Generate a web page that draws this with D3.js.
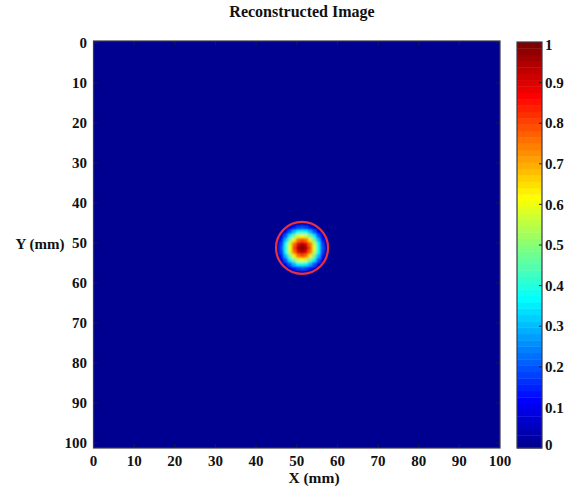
<!DOCTYPE html>
<html>
<head>
<meta charset="utf-8">
<script src="https://cdn.jsdelivr.net/npm/d3@7"></script>
<style>
  html, body { margin: 0; padding: 0; background: #fff; }
  svg { display: block; }
  text { font-family: "Liberation Serif", "Times New Roman", serif; font-weight: bold; fill: #111; }
</style>
</head>
<body>
<svg id="chart" width="576" height="489"></svg>
<script>
// Reconstructed image: a single hot spot near (51, 51) mm on an otherwise empty field.
const TITLE = "Reconstructed Image";
const X_LABEL = "X (mm)";
const Y_LABEL = "Y (mm)";

const xTicks = [0, 10, 20, 30, 40, 50, 60, 70, 80, 90, 100];
const yTicks = [0, 10, 20, 30, 40, 50, 60, 70, 80, 90, 100];
const cbTicks = [0, 0.1, 0.2, 0.3, 0.4, 0.5, 0.6, 0.7, 0.8, 0.9, 1];
const cbLabels = ["0", "0.1", "0.2", "0.3", "0.4", "0.5", "0.6", "0.7", "0.8", "0.9", "1"];

// intensity, 1 mm cells, window starting at (44.8, 44.75) mm
const gridX0 = 44.8;
const gridY0 = 44.75;
const gridValues = [
  [0.00, 0.00, 0.00, 0.01, 0.03, 0.05, 0.05, 0.05, 0.03, 0.01, 0.00, 0.00, 0.00],
  [0.00, 0.00, 0.03, 0.08, 0.13, 0.18, 0.20, 0.18, 0.13, 0.08, 0.03, 0.00, 0.00],
  [0.00, 0.03, 0.10, 0.20, 0.30, 0.38, 0.40, 0.38, 0.30, 0.20, 0.10, 0.03, 0.00],
  [0.01, 0.08, 0.20, 0.35, 0.48, 0.57, 0.60, 0.57, 0.48, 0.35, 0.20, 0.08, 0.01],
  [0.03, 0.13, 0.30, 0.48, 0.64, 0.76, 0.80, 0.76, 0.64, 0.48, 0.30, 0.13, 0.03],
  [0.05, 0.18, 0.38, 0.57, 0.76, 0.90, 0.95, 0.90, 0.76, 0.57, 0.38, 0.18, 0.05],
  [0.05, 0.20, 0.40, 0.60, 0.80, 0.95, 1.00, 0.95, 0.80, 0.60, 0.40, 0.20, 0.05],
  [0.05, 0.18, 0.38, 0.57, 0.76, 0.90, 0.95, 0.90, 0.76, 0.57, 0.38, 0.18, 0.05],
  [0.03, 0.13, 0.30, 0.48, 0.64, 0.76, 0.80, 0.76, 0.64, 0.48, 0.30, 0.13, 0.03],
  [0.01, 0.08, 0.20, 0.35, 0.48, 0.57, 0.60, 0.57, 0.48, 0.35, 0.20, 0.08, 0.01],
  [0.00, 0.03, 0.10, 0.20, 0.30, 0.38, 0.40, 0.38, 0.30, 0.20, 0.10, 0.03, 0.00],
  [0.00, 0.00, 0.03, 0.08, 0.13, 0.18, 0.20, 0.18, 0.13, 0.08, 0.03, 0.00, 0.00],
  [0.00, 0.00, 0.00, 0.01, 0.03, 0.05, 0.05, 0.05, 0.03, 0.01, 0.00, 0.00, 0.00],
];

// marked target (red ring), mm
const targets = [{ x: 51.3, y: 51.2, r: 6.4 }];

// --- layout
const plot = { left: 93.5, right: 500, top: 41, bottom: 448 };
const cbar = { left: 517, right: 542, top: 42, bottom: 448 };

const x = d3.scaleLinear().domain([0, 100]).range([plot.left, plot.right]);
const y = d3.scaleLinear().domain([0, 100]).range([43, 443]);
const cb = d3.scaleLinear().domain([0, 1]).range([cbar.bottom, cbar.top]);

// MATLAB jet
const jet = d3.scaleLinear()
  .domain([0, 7 / 63, 23 / 63, 39 / 63, 55 / 63, 1])
  .range(["#000090", "#0000ff", "#00ffff", "#ffff00", "#ff0000", "#800000"])
  .clamp(true);

const svg = d3.select("#chart");
const defs = svg.append("defs");
defs.append("clipPath").attr("id", "plotClip").append("rect")
  .attr("x", plot.left).attr("y", plot.top)
  .attr("width", plot.right - plot.left).attr("height", plot.bottom - plot.top);
defs.append("filter").attr("id", "soft")
  .attr("x", "-20%").attr("y", "-20%").attr("width", "140%").attr("height", "140%")
  .append("feGaussianBlur").attr("stdDeviation", 1.0);

// background field (value 0)
svg.append("rect")
  .attr("x", plot.left).attr("y", plot.top)
  .attr("width", plot.right - plot.left).attr("height", plot.bottom - plot.top)
  .attr("fill", jet(0));

// heat cells
const cells = [];
gridValues.forEach((row, i) => row.forEach((v, j) => cells.push({ i, j, v })));
const gHeat = svg.append("g").attr("clip-path", "url(#plotClip)")
  .append("g").attr("filter", "url(#soft)");
gHeat.selectAll("rect").data(cells).join("rect")
  .attr("x", (d) => x(gridX0 + d.j))
  .attr("y", (d) => y(gridY0 + d.i))
  .attr("width", (d) => x(gridX0 + d.j + 1) - x(gridX0 + d.j) + 0.3)
  .attr("height", (d) => y(gridY0 + d.i + 1) - y(gridY0 + d.i) + 0.3)
  .attr("fill", (d) => jet(d.v));

// red ring
svg.append("g").selectAll("circle").data(targets).join("circle")
  .attr("cx", (d) => x(d.x))
  .attr("cy", (d) => y(d.y))
  .attr("r", (d) => x(d.r) - x(0))
  .attr("fill", "none")
  .attr("stroke", "#e8323c")
  .attr("stroke-width", 2.2);

// inward ticks
const tickLen = 4;
const gTicks = svg.append("g").attr("stroke", "#1a1a40").attr("stroke-width", 1);
const xIn = xTicks.filter((t) => x(t) > plot.left + 1 && x(t) < plot.right - 1);
gTicks.selectAll("line.xb").data(xIn).join("line").attr("class", "xb")
  .attr("x1", (d) => x(d)).attr("x2", (d) => x(d))
  .attr("y1", plot.bottom).attr("y2", plot.bottom - tickLen);
gTicks.selectAll("line.xt").data(xIn).join("line").attr("class", "xt")
  .attr("x1", (d) => x(d)).attr("x2", (d) => x(d))
  .attr("y1", plot.top).attr("y2", plot.top + tickLen);
const yIn = yTicks.filter((t) => y(t) > plot.top + 1 && y(t) < plot.bottom - 1);
gTicks.selectAll("line.yl").data(yIn).join("line").attr("class", "yl")
  .attr("x1", plot.left).attr("x2", plot.left + tickLen)
  .attr("y1", (d) => y(d)).attr("y2", (d) => y(d));
gTicks.selectAll("line.yr").data(yIn).join("line").attr("class", "yr")
  .attr("x1", plot.right).attr("x2", plot.right - tickLen)
  .attr("y1", (d) => y(d)).attr("y2", (d) => y(d));

// frame
svg.append("rect")
  .attr("x", plot.left).attr("y", plot.top)
  .attr("width", plot.right - plot.left).attr("height", plot.bottom - plot.top)
  .attr("fill", "none").attr("stroke", "#3a3a4a").attr("stroke-width", 1.2);

// tick labels
svg.append("g").selectAll("text").data(xTicks).join("text")
  .attr("x", (d) => x(d)).attr("y", 466)
  .attr("text-anchor", "middle").attr("font-size", 15)
  .text((d) => d);
svg.append("g").selectAll("text").data(yTicks).join("text")
  .attr("x", 87).attr("y", (d) => y(d))
  .attr("dy", "0.35em")
  .attr("text-anchor", "end").attr("font-size", 15)
  .text((d) => d);

// axis titles
svg.append("text").attr("x", 302).attr("y", 17)
  .attr("text-anchor", "middle").attr("font-size", 16).text(TITLE);
svg.append("text").attr("x", 314).attr("y", 483)
  .attr("text-anchor", "middle").attr("font-size", 15.5).text(X_LABEL);
svg.append("text").attr("x", 40).attr("y", 244).attr("dy", "0.35em")
  .attr("text-anchor", "middle").attr("font-size", 15).text(Y_LABEL);

// colorbar, 64 steps like the jet map
const steps = d3.range(64);
const stepH = (cbar.bottom - cbar.top) / 64;
svg.append("g").selectAll("rect").data(steps).join("rect")
  .attr("x", cbar.left)
  .attr("y", (d) => cb((d + 1) / 64))
  .attr("width", cbar.right - cbar.left)
  .attr("height", stepH + 0.4)
  .attr("fill", (d) => jet(d / 63));
svg.append("g").attr("stroke", "#1a1a1a").selectAll("line")
  .data(cbTicks.filter((t) => t > 0 && t < 1)).join("line")
  .attr("x1", cbar.right).attr("x2", cbar.right - 3)
  .attr("y1", (d) => cb(d)).attr("y2", (d) => cb(d));
svg.append("rect")
  .attr("x", cbar.left).attr("y", cbar.top)
  .attr("width", cbar.right - cbar.left).attr("height", cbar.bottom - cbar.top)
  .attr("fill", "none").attr("stroke", "#3a3a4a").attr("stroke-width", 1.2);
svg.append("g").selectAll("text").data(cbTicks).join("text")
  .attr("x", 545)
  .attr("y", (d) => Math.min(cb(0) - 3, Math.max(cb(1) + 3, cb(d))))
  .attr("dy", "0.35em").attr("font-size", 15)
  .text((d, i) => cbLabels[i]);
</script>
</body>
</html>
